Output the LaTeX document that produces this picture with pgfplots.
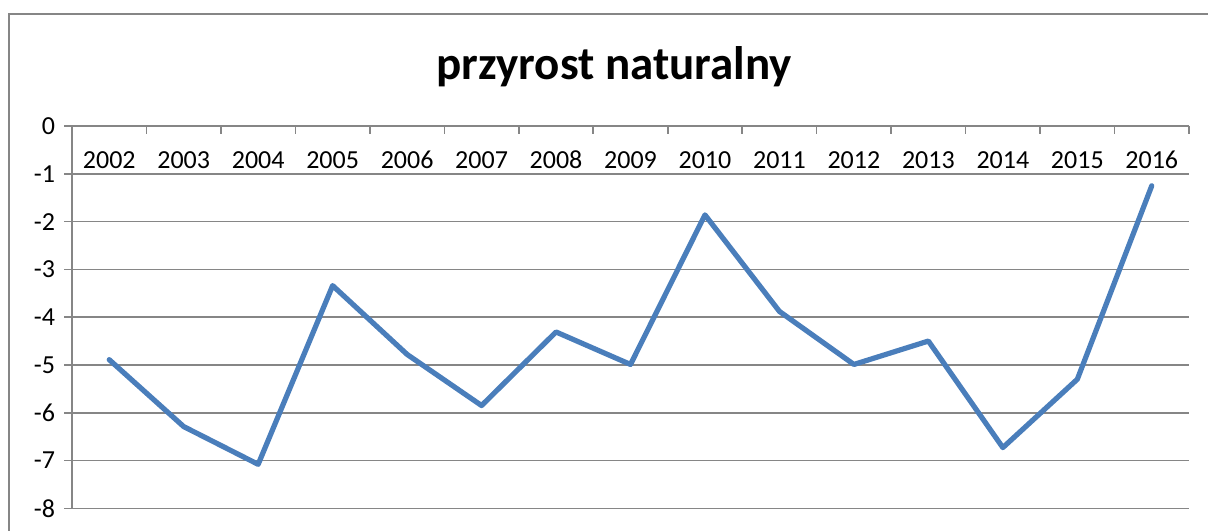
\documentclass[border=0pt]{standalone}
\usepackage{fontspec}
\setmainfont{Carlito}
\usepackage{pgfplots}
\pgfplotsset{compat=1.18}
\definecolor{linecol}{RGB}{74,126,187}
\definecolor{gridcol}{RGB}{134,134,134}
\begin{document}
\begin{tikzpicture}
\useasboundingbox (0,0) rectangle (604pt,265pt);
\draw[gridcol, line width=1pt] (4.5pt,-5pt) -- (4.5pt,258pt) -- (620pt,258pt);
\node[font=\bfseries\fontsize{23.5}{28}\selectfont, anchor=base] at (307pt,225pt) {przyrost naturalny};
\begin{axis}[
  at={(36pt,10.85pt)}, anchor=south west,
  scale only axis, width=558.5pt, height=191.15pt,
  xmin=-0.5, xmax=14.5, ymin=-8, ymax=0,
  axis x line*=top, axis y line*=left,
  axis line style={gridcol, line width=0.8pt},
  xtick={-0.5,0.5,...,14.5},
  xticklabels={2002,2003,2004,2005,2006,2007,2008,2009,2010,2011,2012,2013,2014,2015,2016,{}},
  xticklabel style={anchor=center, xshift=18.62pt, yshift=-21pt},
  x tick style={yshift=-4pt},
  ytick={-8,-7,...,0},
  yticklabels={-8,-7,-6,-5,-4,-3,-2,-1,0},
  yticklabel style={xshift=-1pt},
  tick align=outside, major tick length=4pt,
  tick style={gridcol, line width=0.8pt},
  ymajorgrids, grid style={gridcol, line width=0.8pt},
  ticklabel style={font=\fontsize{13}{15}\selectfont},
  clip=false,
]
\addplot[linecol, line width=2.6pt, line join=round, line cap=round] coordinates {
(0,-4.89) (1,-6.29) (2,-7.08) (3,-3.34) (4,-4.78) (5,-5.85) (6,-4.31) (7,-4.99)
(8,-1.86) (9,-3.88) (10,-4.99) (11,-4.50) (12,-6.73) (13,-5.30) (14,-1.25)
};
\end{axis}
\end{tikzpicture}
\end{document}
